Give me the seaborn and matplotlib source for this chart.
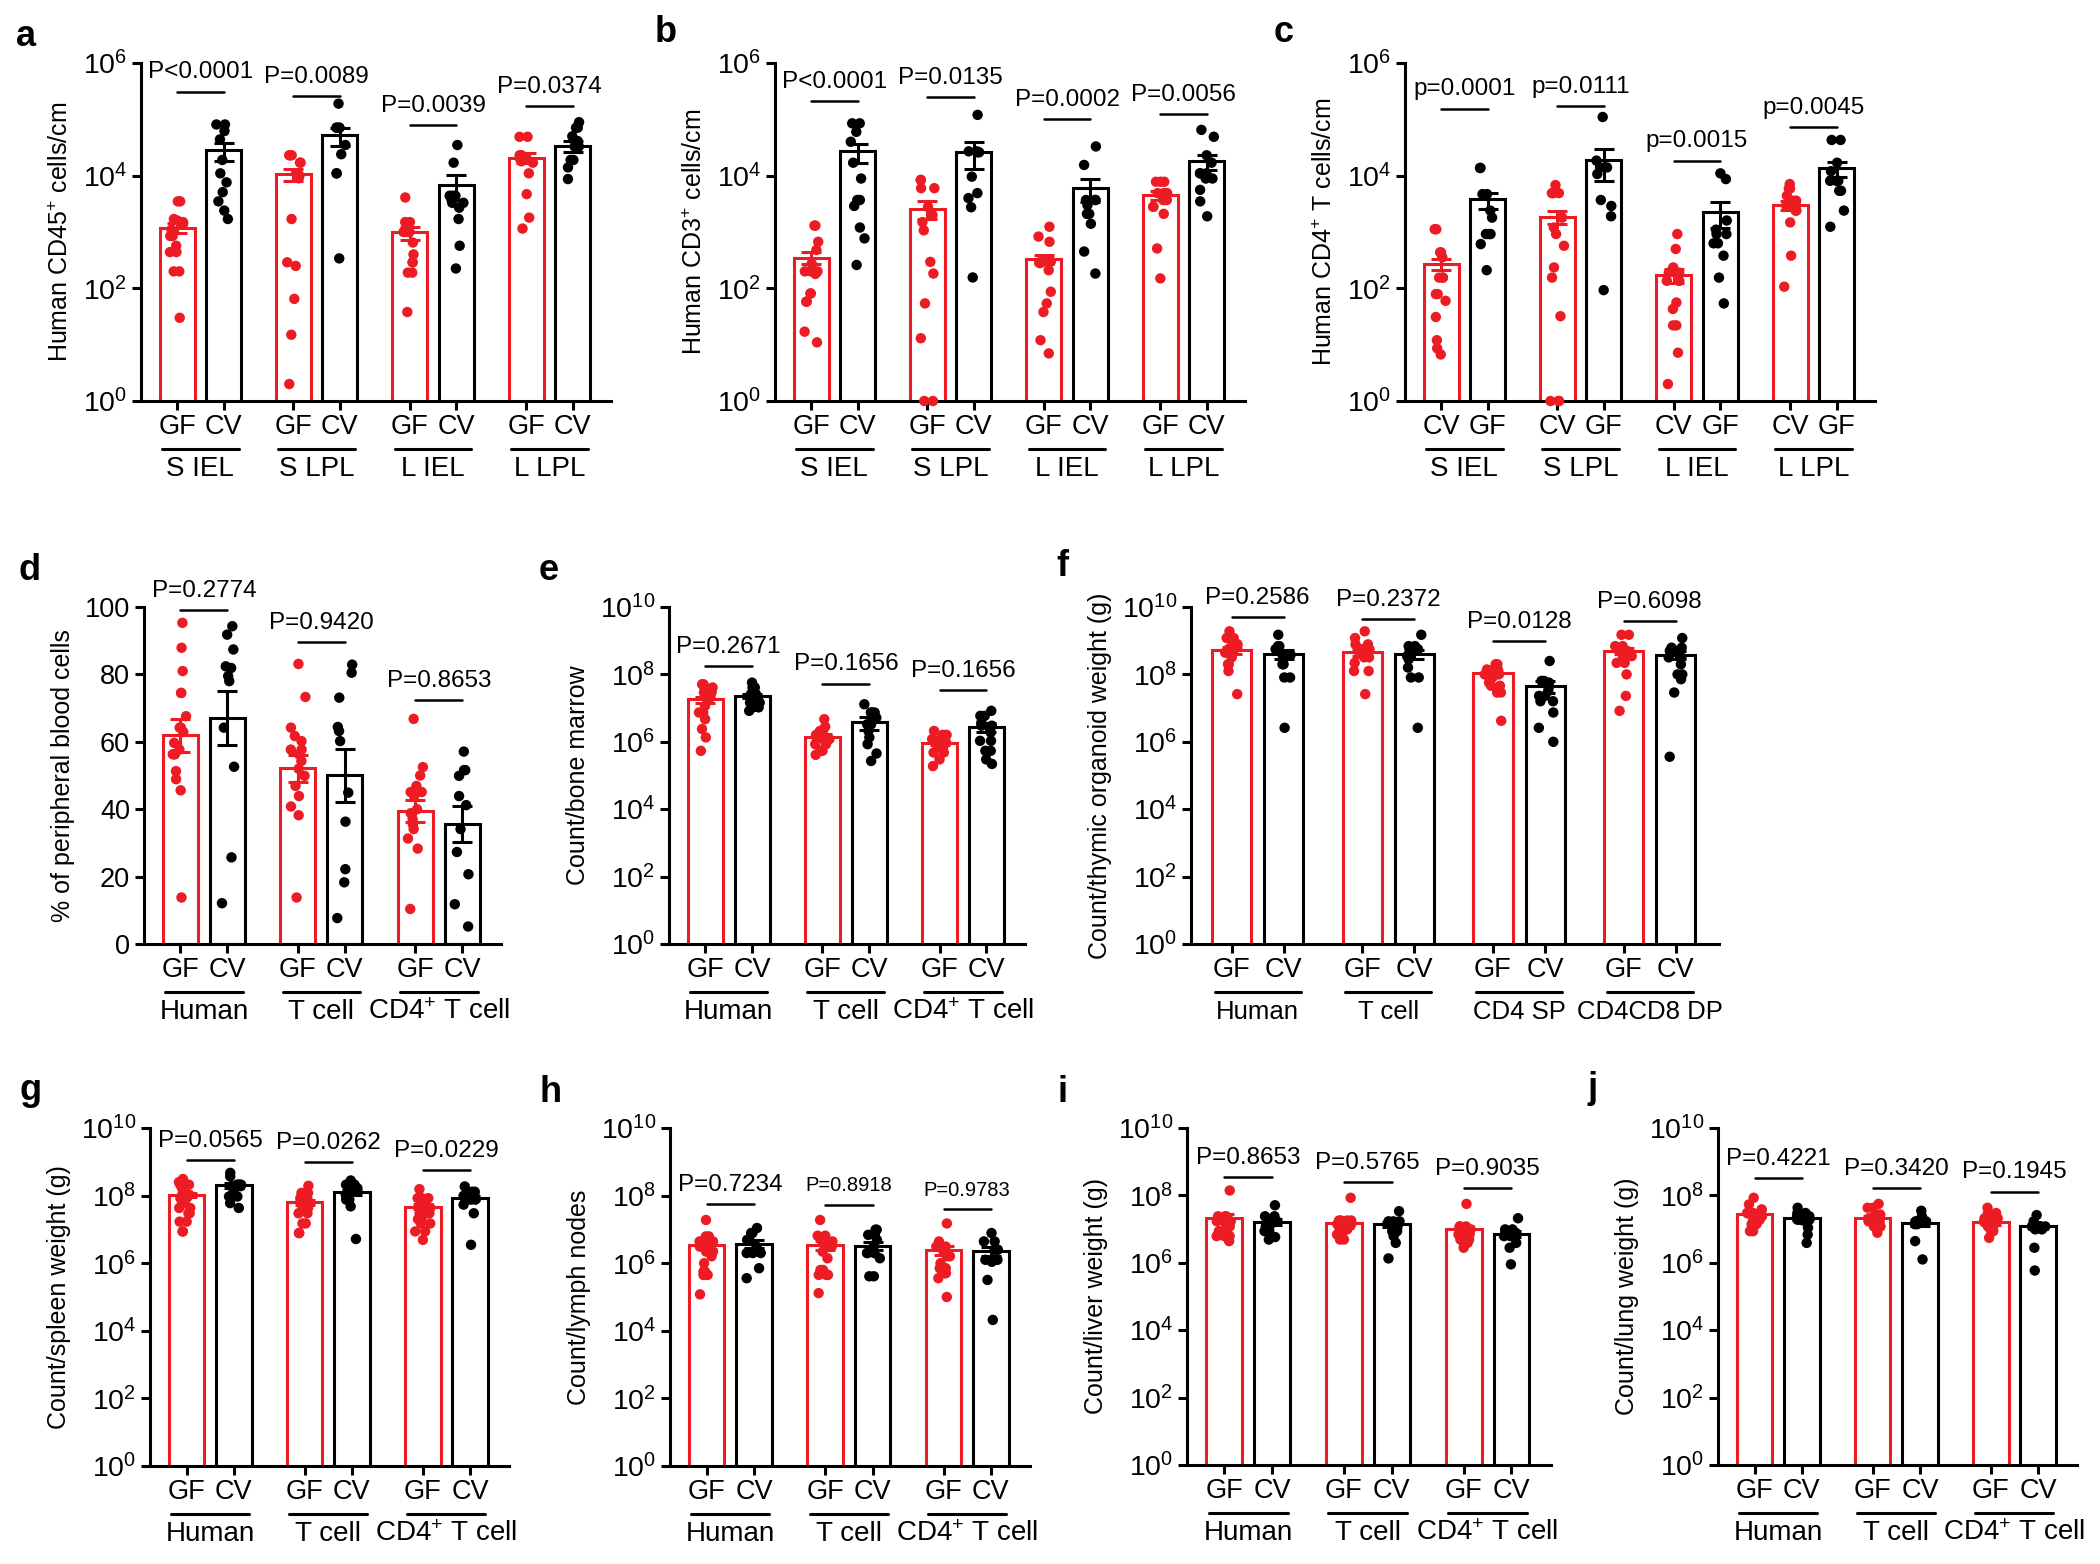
import warnings
import numpy as np
import pandas as pd
import matplotlib
matplotlib.use("Agg")
import matplotlib.pyplot as plt
import matplotlib.transforms as mtransforms
from matplotlib.ticker import NullLocator
import seaborn as sns

warnings.filterwarnings("ignore")
np.random.seed(3)

# ---------------- data ----------------
# a : Human CD45+ cells/cm
a_groups = ["S IEL", "S LPL", "L IEL", "L LPL"]
a_red = [
    [3.5e3, 3.5e3, 1.7e3, 1.6e3, 1.5e3, 1.4e3, 1.1e3, 850, 850, 570, 440, 440, 200, 200, 30],
    [2.3e4, 2.3e4, 2.3e4, 1.7e4, 1.7e4, 1.1e4, 1.0e4, 9e3, 1.7e3, 290, 250, 65, 15, 2],
    [4.1e3, 1.5e3, 1.5e3, 1.0e3, 1.0e3, 1.0e3, 650, 400, 290, 290, 190, 190, 38],
    [4.9e4, 4.9e4, 2.3e4, 2.3e4, 2.3e4, 2.0e4, 2.0e4, 2.0e4, 1.8e4, 1.7e4, 1.1e4, 4.7e3, 1.8e3, 1.15e3],
]
a_black = [
    [8.1e4, 8.1e4, 6.2e4, 4.4e4, 1.9e4, 1.1e4, 7.6e3, 5.1e3, 3.5e3, 2.4e3, 1.7e3],
    [1.9e5, 7.1e4, 7.1e4, 7.1e4, 7.1e4, 3.5e4, 2.4e4, 1.1e4, 1.1e4, 340],
    [3.5e4, 1.7e4, 4.4e3, 4.4e3, 4.4e3, 3.3e3, 3.3e3, 2.7e3, 1.7e3, 570, 225],
    [8.9e4, 7.1e4, 7.1e4, 5.0e4, 4.1e4, 4.1e4, 4.1e4, 3.3e4, 3.3e4, 1.9e4, 1.9e4, 1.4e4, 8.7e3],
]
a_red_mean = [1.2e3, 1.05e4, 980, 2.1e4]
a_red_sem = [250, 2.5e3, 250, 4e3]
a_black_mean = [2.8e4, 5.2e4, 6.9e3, 3.4e4]
a_black_sem = [9.5e3, 1.8e4, 3.2e3, 8e3]
a_pval = ["P<0.0001", "P=0.0089", "P=0.0039", "P=0.0374"]
a_pline = [3.1e5, 2.6e5, 7.9e4, 1.7e5]

# b : Human CD3+ cells/cm
b_groups = ["S IEL", "S LPL", "L IEL", "L LPL"]
b_red = [
    [1.3e3, 1.3e3, 670, 480, 275, 200, 200, 200, 180, 81, 81, 58, 58, 17, 11],
    [8.4e3, 8.4e3, 6e3, 6e3, 2.8e3, 2.0e3, 1.5e3, 1.07e3, 295, 183, 54, 13, 1, 1],
    [1.24e3, 830, 670, 300, 300, 290, 290, 280, 210, 87, 54, 38, 12, 7],
    [7.8e3, 7.8e3, 7.8e3, 4.9e3, 4.9e3, 4.9e3, 3.7e3, 3.7e3, 3.7e3, 2.8e3, 2.8e3, 2.1e3, 510, 150],
]
b_black = [
    [8.5e4, 8.5e4, 6.0e4, 4.0e4, 1.7e4, 8.9e3, 3.7e3, 3.7e3, 2.9e3, 1.2e3, 770, 260],
    [1.2e5, 2.7e4, 2.7e4, 2.6e4, 2.6e4, 9.6e3, 4.9e3, 4.0e3, 2.75e3, 156],
    [3.3e4, 1.55e4, 3.7e3, 3.7e3, 3.7e3, 3.0e3, 2.1e3, 2.1e3, 1.4e3, 450, 183],
    [6.5e4, 4.9e4, 2.3e4, 1.7e4, 1.1e4, 1.1e4, 1.1e4, 8.9e3, 8.9e3, 5.6e3, 3.5e3, 1.9e3],
]
b_red_mean = [350, 2.6e3, 325, 4.5e3]
b_red_sem = [85, 900, 60, 800]
b_black_mean = [2.7e4, 2.6e4, 6.0e3, 1.8e4]
b_black_sem = [1.0e4, 1.3e4, 2.6e3, 5.5e3]
b_pval = ["P<0.0001", "P=0.0135", "P=0.0002", "P=0.0056"]
b_pline = [2.1e5, 2.5e5, 1.0e5, 1.25e5]

# c : Human CD4+ T cells/cm
c_groups = ["S IEL", "S LPL", "L IEL", "L LPL"]
c_red = [
    [1.12e3, 1.12e3, 435, 435, 355, 155, 155, 155, 79, 79, 60, 31, 12, 8.6, 6.7],
    [6.8e3, 4.9e3, 4.9e3, 4.9e3, 1.8e3, 1.2e3, 920, 570, 235, 155, 32, 1, 1, 1],
    [920, 500, 235, 190, 190, 136, 136, 136, 56, 43, 22, 22, 7.2, 2],
    [7.1e3, 5.9e3, 5.9e3, 4.4e3, 3.6e3, 3.6e3, 2.9e3, 2.9e3, 2.9e3, 2.4e3, 2.4e3, 1.48e3, 380, 107],
]
c_black = [
    [1.37e4, 1.37e4, 4.7e3, 4.7e3, 2.4e3, 1.8e3, 920, 920, 920, 610, 210],
    [1.1e5, 1.85e4, 1.4e4, 1.4e4, 1.07e4, 3.7e3, 2.9e3, 1.9e3, 93],
    [1.1e4, 8.7e3, 1.6e3, 1.1e3, 920, 920, 630, 630, 380, 155, 54],
    [4.3e4, 4.3e4, 1.7e4, 1.2e4, 8.1e3, 8.1e3, 8.1e3, 5.4e3, 5.4e3, 2.4e3, 1.24e3],
]
c_red_mean = [270, 1.86e3, 174, 3.0e3]
c_red_sem = [60, 500, 50, 500]
c_black_mean = [3.8e3, 1.9e4, 2.3e3, 1.35e4]
c_black_sem = [1.2e3, 1.1e4, 1.1e3, 4e3]
c_pval = ["p=0.0001", "p=0.0111", "p=0.0015", "p=0.0045"]
c_pline = [1.55e5, 1.7e5, 1.85e4, 7.4e4]

# d : % of peripheral blood cells
d_groups = ["Human", "T cell", "CD4$^{+}$ T cell"]
d_red = [
    [95.3, 87.9, 81.0, 74.5, 74.5, 67.6, 64.2, 64.2, 62.9, 59.7, 57.7, 56.3, 56.3, 56.3, 51.3, 48.9, 45.6, 13.8],
    [83.1, 73.3, 64.2, 61.7, 60.2, 57.7, 57.7, 56.3, 54.3, 52.0, 49.9, 46.9, 43.9, 40.8, 38.2, 13.8],
    [66.8, 52.5, 50.0, 46.9, 45.1, 45.1, 43.9, 40.0, 38.8, 37.0, 35.5, 34.1, 31.3, 28.3, 10.4],
]
d_black = [
    [94.3, 91.8, 87.4, 82.4, 81.9, 79.5, 78.0, 64.2, 52.6, 25.7, 12.1],
    [82.9, 80.5, 73.1, 64.4, 63.2, 60.2, 44.9, 36.3, 22.2, 18.3, 7.7],
    [57.1, 51.6, 51.6, 49.9, 43.9, 41.2, 34.1, 27.3, 20.7, 11.8, 5.2],
]
d_red_mean = [61.9, 52.1, 39.5]
d_red_sem = [4.8, 4.0, 3.2]
d_black_mean = [67.1, 50.1, 35.7]
d_black_sem = [8.1, 7.9, 5.3]
d_pval = ["P=0.2774", "P=0.9420", "P=0.8653"]
d_pline = [99.2, 89.6, 72.4]

# e : Count/bone marrow
e_groups = ["Human", "T cell", "CD4$^{+}$ T cell"]
e_red = [
    [5.1e7, 5.1e7, 4.1e7, 4.1e7, 2.9e7, 2.9e7, 2.9e7, 1.8e7, 1.17e7, 7.4e6, 7.4e6, 4.7e6, 2.4e6, 1.35e6, 5.4e5],
    [4.7e6, 2.8e6, 2.1e6, 2.1e6, 1.6e6, 1.6e6, 1.6e6, 1.2e6, 1.2e6, 1.2e6, 1.2e6, 8.5e5, 8.5e5, 5.4e5, 5.4e5, 4.1e5],
    [2.1e6, 1.6e6, 1.6e6, 1.6e6, 1.2e6, 1.2e6, 9.5e5, 9.5e5, 9.5e5, 7.1e5, 7.1e5, 7.1e5, 4.8e5, 4.8e5, 3.0e5, 1.9e5],
]
e_black = [
    [5.7e7, 4.1e7, 4.1e7, 2.6e7, 2.6e7, 2.6e7, 1.8e7, 1.8e7, 1.45e7, 1.45e7, 1.45e7, 1.05e7, 1.05e7, 8.3e6],
    [1.3e7, 7.4e6, 7.4e6, 7.4e6, 5.2e6, 3.3e6, 3.3e6, 2.1e6, 1.35e6, 8.5e5, 4.5e5, 2.7e5],
    [8.3e6, 5.9e6, 5.9e6, 3.7e6, 3.0e6, 3.0e6, 1.9e6, 1.07e6, 1.07e6, 5.4e5, 5.4e5, 3.0e5, 2.2e5],
]
e_red_mean = [1.8e7, 1.4e6, 9.5e5]
e_red_sem = [4e6, 2.5e5, 1.2e5]
e_black_mean = [2.3e7, 3.9e6, 2.8e6]
e_black_sem = [3.5e6, 1.6e6, 8e5]
e_pval = ["P=0.2671", "P=0.1656", "P=0.1656"]
e_pline = [1.8e8, 5.3e7, 3.4e7]

# f : Count/thymic organoid weight (g)
f_groups = ["Human", "T cell", "CD4 SP", "CD4CD8 DP"]
f_red = [
    [1.9e9, 1.2e9, 1.2e9, 7.8e8, 7.8e8, 7.8e8, 5.6e8, 5.6e8, 4.4e8, 4.4e8, 3.2e8, 2.0e8, 2.0e8, 1.26e8, 2.6e7],
    [1.9e9, 1.2e9, 7.8e8, 7.8e8, 5.6e8, 5.6e8, 5.6e8, 4.0e8, 4.0e8, 3.2e8, 3.2e8, 2.2e8, 1.26e8, 1.26e8, 2.6e7],
    [2.0e8, 2.0e8, 1.4e8, 1.4e8, 1.4e8, 1.0e8, 1.0e8, 1.0e8, 8.1e7, 8.1e7, 5.7e7, 4.6e7, 4.6e7, 2.9e7, 2.9e7, 4.2e6],
    [1.5e9, 1.5e9, 6.9e8, 6.9e8, 5.0e8, 5.0e8, 5.0e8, 3.5e8, 3.5e8, 3.5e8, 2.2e8, 2.2e8, 1.0e8, 2.3e7, 8.3e6],
]
f_black = [
    [1.5e9, 6.9e8, 6.9e8, 5.6e8, 3.8e8, 3.8e8, 3.8e8, 2.0e8, 2.0e8, 8.1e7, 8.1e7, 2.6e6],
    [1.5e9, 6.9e8, 6.9e8, 5.6e8, 3.5e8, 3.5e8, 3.5e8, 2.8e8, 1.6e8, 8.1e7, 8.1e7, 2.6e6],
    [2.5e8, 6.4e7, 6.4e7, 5.7e7, 4.1e7, 3.2e7, 2.3e7, 2.3e7, 1.6e7, 1.6e7, 7.4e6, 2.6e6, 1.0e6],
    [1.2e9, 6.2e8, 6.2e8, 5.0e8, 5.0e8, 3.2e8, 3.2e8, 2.0e8, 1.0e8, 1.0e8, 7.2e7, 2.9e7, 3.6e5],
]
f_red_mean = [5.3e8, 4.6e8, 1.1e8, 5.0e8]
f_red_sem = [1.2e8, 1.1e8, 1.5e7, 1.1e8]
f_black_mean = [4.1e8, 4.1e8, 4.6e7, 3.8e8]
f_black_sem = [1.2e8, 1.2e8, 1.8e7, 1.0e8]
f_pval = ["P=0.2586", "P=0.2372", "P=0.0128", "P=0.6098"]
f_pline = [5.0e9, 4.3e9, 1.0e9, 3.8e9]

# g : Count/spleen weight (g)
g_groups = ["Human", "T cell", "CD4$^{+}$ T cell"]
g_red = [
    [3.1e8, 2.5e8, 2.1e8, 2.1e8, 1.8e8, 1.5e8, 1.05e8, 1.05e8, 1.05e8, 8.4e7, 8.4e7, 6.0e7, 6.0e7,
     4.3e7, 4.3e7, 3.0e7, 3.0e7, 1.7e7, 1.7e7, 8.7e6, 8.7e6],
    [1.95e8, 1.2e8, 1.2e8, 1.2e8, 8.4e7, 8.4e7, 8.4e7, 6.0e7, 6.0e7, 6.0e7, 4.3e7, 4.3e7, 4.3e7,
     3.0e7, 3.0e7, 1.5e7, 1.5e7, 7.8e6, 7.8e6],
    [1.55e8, 8.4e7, 8.4e7, 8.4e7, 6.0e7, 6.0e7, 4.3e7, 4.3e7, 4.3e7, 3.0e7, 3.0e7, 3.0e7, 2.0e7,
     2.0e7, 1.5e7, 1.5e7, 8.7e6, 8.7e6, 4.9e6],
]
g_black = [
    [4.7e8, 3.7e8, 2.1e8, 2.1e8, 2.1e8, 2.1e8, 1.9e8, 1.9e8, 1.3e8, 9.4e7, 9.4e7, 6.0e7, 4.3e7],
    [2.8e8, 2.1e8, 2.1e8, 1.66e8, 1.66e8, 1.3e8, 1.3e8, 1.3e8, 1.05e8, 7.6e7, 7.6e7, 4.8e7, 5.2e6],
    [1.86e8, 1.3e8, 1.3e8, 9.8e7, 9.8e7, 9.8e7, 9.8e7, 7.6e7, 7.6e7, 5.4e7, 3.0e7, 3.5e6],
]
g_red_mean = [1.05e8, 6.3e7, 4.7e7]
g_red_sem = [1.7e7, 1.1e7, 8e6]
g_black_mean = [2.0e8, 1.24e8, 8.5e7]
g_black_sem = [3.2e7, 2e7, 1.3e7]
g_pval = ["P=0.0565", "P=0.0262", "P=0.0229"]
g_pline = [1.15e9, 9.6e8, 5.8e8]

# h : Count/lymph nodes
h_groups = ["Human", "T cell", "CD4$^{+}$ T cell"]
h_red = [
    [1.9e7, 6.2e6, 6.2e6, 4.4e6, 4.4e6, 4.4e6, 3.1e6, 3.1e6, 3.1e6, 2.2e6, 2.2e6, 1.6e6, 1.0e6,
     5.7e5, 5.7e5, 4.5e5, 4.5e5, 4.5e5, 1.2e5],
    [1.9e7, 6.5e6, 6.5e6, 4.4e6, 4.4e6, 4.4e6, 3.1e6, 3.1e6, 3.1e6, 2.2e6, 1.4e6, 6.3e5, 6.3e5,
     4.5e5, 4.5e5, 4.5e5, 1.3e5],
    [1.5e7, 4.4e6, 3.1e6, 3.1e6, 3.1e6, 2.2e6, 2.2e6, 1.6e6, 1.6e6, 1.0e6, 7.1e5, 7.1e5, 5.1e5,
     5.1e5, 5.1e5, 3.6e5, 1.0e5],
]
h_black = [
    [1.1e7, 7.8e6, 7.8e6, 4.9e6, 4.9e6, 3.1e6, 2.0e6, 2.0e6, 2.0e6, 7.1e5, 3.6e5],
    [9.8e6, 9.8e6, 6.9e6, 6.9e6, 4.9e6, 3.1e6, 2.0e6, 2.0e6, 2.0e6, 1.4e6, 4.1e5, 4.1e5],
    [7.8e6, 4.4e6, 4.4e6, 2.5e6, 2.5e6, 1.26e6, 1.26e6, 1.26e6, 1.1e6, 3.2e5, 2.1e4],
]
h_red_mean = [3.5e6, 3.5e6, 2.5e6]
h_red_sem = [9e5, 1.1e6, 8e5]
h_black_mean = [3.8e6, 3.3e6, 2.3e6]
h_black_sem = [1e6, 9e5, 7e5]
h_pval = ["P=0.7234", "P=0.8918", "P=0.9783"]
h_pline = [5.6e7, 5.4e7, 4.0e7]

# i : Count/liver weight (g)
i_groups = ["Human", "T cell", "CD4$^{+}$ T cell"]
i_red = [
    [1.4e8, 2.4e7, 2.4e7, 2.4e7, 1.7e7, 1.7e7, 1.7e7, 1.2e7, 1.2e7, 1.2e7, 1.2e7, 8.7e6, 8.7e6,
     8.7e6, 6.2e6, 6.2e6, 6.2e6, 4.4e6],
    [8.5e7, 1.8e7, 1.8e7, 1.8e7, 1.8e7, 1.4e7, 1.4e7, 1.4e7, 1.4e7, 9.8e6, 9.8e6, 9.8e6, 6.9e6,
     6.9e6, 6.9e6, 4.9e6, 4.9e6],
    [5.6e7, 1.2e7, 1.2e7, 1.2e7, 9.8e6, 9.8e6, 9.8e6, 6.9e6, 6.9e6, 6.9e6, 6.9e6, 4.9e6, 4.9e6,
     4.9e6, 4.9e6, 3.9e6, 3.9e6, 2.8e6],
]
i_black = [
    [5.1e7, 2.4e7, 2.4e7, 1.7e7, 1.7e7, 1.7e7, 1.2e7, 1.2e7, 1.2e7, 8.7e6, 8.7e6, 5.8e6, 5.8e6, 4.9e6],
    [3.4e7, 1.7e7, 1.7e7, 1.7e7, 1.4e7, 1.4e7, 1.4e7, 8.7e6, 8.7e6, 6.2e6, 3.9e6, 1.35e6],
    [2.1e7, 9.8e6, 9.8e6, 7.8e6, 7.8e6, 7.8e6, 6.2e6, 6.2e6, 6.2e6, 3.9e6, 2.8e6, 9.0e5],
]
i_red_mean = [2.2e7, 1.5e7, 9.8e6]
i_red_sem = [7e6, 4.5e6, 2.8e6]
i_black_mean = [1.66e7, 1.4e7, 7.2e6]
i_black_sem = [3e6, 2.5e6, 1.5e6]
i_pval = ["P=0.8653", "P=0.5765", "P=0.9035"]
i_pline = [3.5e8, 2.5e8, 1.66e8]

# j : Count/lung weight (g)
j_groups = ["Human", "T cell", "CD4$^{+}$ T cell"]
j_red = [
    [8.5e7, 5.4e7, 3.8e7, 3.8e7, 3.0e7, 3.0e7, 3.0e7, 2.4e7, 2.4e7, 2.4e7, 2.4e7, 1.9e7, 1.9e7,
     1.9e7, 1.4e7, 1.4e7, 1.4e7, 8.7e6, 8.7e6],
    [5.6e7, 4.3e7, 4.3e7, 2.7e7, 2.7e7, 2.7e7, 2.1e7, 2.1e7, 2.1e7, 1.7e7, 1.7e7, 1.7e7, 1.7e7,
     1.2e7, 1.2e7, 1.2e7, 7.8e6],
    [4.3e7, 3.0e7, 3.0e7, 2.1e7, 2.1e7, 2.1e7, 1.65e7, 1.65e7, 1.65e7, 1.65e7, 1.2e7, 1.2e7, 1.2e7,
     8.7e6, 8.7e6, 5.5e6],
]
j_black = [
    [4.3e7, 3.0e7, 3.0e7, 2.4e7, 2.4e7, 2.4e7, 1.9e7, 1.9e7, 1.9e7, 1.9e7, 1.8e7, 1.8e7, 1.1e7, 6.9e6, 3.9e6],
    [3.5e7, 2.4e7, 1.7e7, 1.7e7, 1.7e7, 1.7e7, 1.7e7, 1.4e7, 1.4e7, 4.4e6, 1.26e6],
    [2.6e7, 1.7e7, 1.2e7, 1.2e7, 1.2e7, 1.2e7, 1.2e7, 1.2e7, 9.8e6, 9.8e6, 2.8e6, 5.9e5],
]
j_red_mean = [2.8e7, 2.1e7, 1.6e7]
j_red_sem = [4e6, 3e6, 2.5e6]
j_black_mean = [2.1e7, 1.55e7, 1.2e7]
j_black_sem = [2.6e6, 2.8e6, 2e6]
j_pval = ["P=0.4221", "P=0.3420", "P=0.1945"]
j_pline = [3.3e8, 1.66e8, 1.3e8]

ticks_6 = [1, 1e2, 1e4, 1e6]
ticks_10 = [1, 1e2, 1e4, 1e6, 1e8, 1e10]
ticks_pct = [0, 20, 40, 60, 80, 100]

# ---------------- style ----------------
RED = "#ED1C24"
PAL = {"GF": RED, "CV": "black"}
sns.set_style("ticks", {"axes.edgecolor": "black", "xtick.color": "black",
                        "ytick.color": "black", "text.color": "black",
                        "axes.labelcolor": "black"})
plt.rcParams["font.family"] = ["Liberation Sans", "DejaVu Sans"]
plt.rcParams["mathtext.fontset"] = "custom"
plt.rcParams["mathtext.rm"] = "Liberation Sans"
plt.rcParams["mathtext.it"] = "Liberation Sans:italic"
plt.rcParams["mathtext.bf"] = "Liberation Sans:bold"
plt.rcParams["mathtext.default"] = "regular"

W, H = 2100, 1564
fig = plt.figure(figsize=(W / 100, H / 100), dpi=100)


def make_ax(l, t, r, b):
    return fig.add_axes([l / W, 1 - b / H, (r - l) / W, (b - t) / H])


def draw(ax, groups, red, black, red_mean, red_sem, black_mean, black_sem,
         pvals, plines, ylabel, ticks, log=True, conds=("GF", "CV"), pfs=None, gfs=20):
    n = len(groups)
    if log:
        ax.set_yscale("log", nonpositive="clip")
    pts = pd.DataFrame(
        [(g, "GF", v) for g, vals in zip(groups, red) for v in vals]
        + [(g, "CV", v) for g, vals in zip(groups, black) for v in vals],
        columns=["group", "cond", "value"])
    bars = pd.DataFrame({"group": groups * 2, "cond": ["GF"] * n + ["CV"] * n,
                         "value": red_mean + black_mean})
    sns.barplot(data=bars, x="group", y="value", hue="cond", order=groups,
                hue_order=["GF", "CV"], palette=PAL, saturation=1, fill=False,
                gap=0.25, linewidth=2.2, errorbar=None, legend=False, ax=ax)
    bar_conts = list(ax.containers[:2])
    sns.stripplot(data=pts, x="group", y="value", hue="cond", order=groups,
                  hue_order=["GF", "CV"], palette=PAL, dodge=True, jitter=0.13,
                  size=7.5, linewidth=0, legend=False, ax=ax,
                  clip_on=False, zorder=3)

    xs_all = []
    for cont, m, s, col in zip(bar_conts, [red_mean, black_mean],
                               [red_sem, black_sem], [RED, "black"]):
        xs = [p.get_x() + p.get_width() / 2 for p in cont.patches]
        xs_all += xs
        ax.errorbar(xs, m, yerr=s, fmt="none", ecolor=col, elinewidth=2.2,
                    capsize=7, capthick=2.2, zorder=4, clip_on=False)
    xs_all = sorted(xs_all)

    # p values
    if pfs is None:
        pfs = [17.5] * n
    for k, (txt, yl) in enumerate(zip(pvals, plines)):
        x0, x1 = xs_all[2 * k], xs_all[2 * k + 1]
        ax.plot([x0, x1], [yl, yl], color="black", lw=1.8, clip_on=False)
        ax.annotate(txt, xy=((x0 + x1) / 2, yl), xytext=(0, 9.5),
                    textcoords="offset points", ha="center", va="baseline",
                    fontsize=pfs[k])

    # group labels under the GF / CV labels
    trans = ax.get_xaxis_transform()
    t_line = mtransforms.offset_copy(trans, fig=fig, y=-48 * 0.72, units="points")
    t_text = mtransforms.offset_copy(trans, fig=fig, y=-75 * 0.72, units="points")
    for k, g in enumerate(groups):
        ax.plot([k - 0.33, k + 0.33], [0, 0], transform=t_line, color="black",
                lw=2.2, clip_on=False)
        ax.text(k, 0, g, transform=t_text, ha="center", va="baseline", fontsize=gfs)

    ax.set_xticks(xs_all)
    ax.set_xticklabels(list(conds) * n)
    ax.set_xlim(-0.51, n - 0.47)
    ax.set_xlabel("")
    if log:
        ax.set_ylim(ticks[0], ticks[-1])
        ax.set_yticks(ticks)
        ax.set_yticklabels([f"$10^{{{int(round(np.log10(t)))}}}$" for t in ticks])
        ax.yaxis.set_minor_locator(NullLocator())
        ax.tick_params(axis="y", labelsize=20.5)
    else:
        ax.set_ylim(ticks[0], ticks[-1])
        ax.set_yticks(ticks)
        ax.tick_params(axis="y", labelsize=19.5)
    ax.set_ylabel(ylabel, fontsize=18, labelpad=7)
    sns.despine(ax=ax)
    for sp in ["left", "bottom"]:
        ax.spines[sp].set_linewidth(2.2)
    ax.tick_params(width=2.2, length=6.5, direction="out")
    ax.tick_params(axis="x", labelsize=19.5, pad=3)


ax_a = make_ax(141, 63, 611, 401)
draw(ax_a, a_groups, a_red, a_black, a_red_mean, a_red_sem, a_black_mean, a_black_sem,
     a_pval, a_pline, "Human CD45$^{+}$ cells/cm", ticks_6)
ax_b = make_ax(775, 63, 1245, 401)
draw(ax_b, b_groups, b_red, b_black, b_red_mean, b_red_sem, b_black_mean, b_black_sem,
     b_pval, b_pline, "Human CD3$^{+}$ cells/cm", ticks_6)
ax_c = make_ax(1405, 63, 1875, 401)
draw(ax_c, c_groups, c_red, c_black, c_red_mean, c_red_sem, c_black_mean, c_black_sem,
     c_pval, c_pline, "Human CD4$^{+}$ T cells/cm", ticks_6, conds=("CV", "GF"))

ax_d = make_ax(144, 607, 501, 944)
draw(ax_d, d_groups, d_red, d_black, d_red_mean, d_red_sem, d_black_mean, d_black_sem,
     d_pval, d_pline, "% of peripheral blood cells", ticks_pct, log=False)
ax_e = make_ax(669, 607, 1025, 944)
draw(ax_e, e_groups, e_red, e_black, e_red_mean, e_red_sem, e_black_mean, e_black_sem,
     e_pval, e_pline, "Count/bone marrow", ticks_10)
ax_f = make_ax(1191, 607, 1719, 944)
draw(ax_f, f_groups, f_red, f_black, f_red_mean, f_red_sem, f_black_mean, f_black_sem,
     f_pval, f_pline, "Count/thymic organoid weight (g)", ticks_10, gfs=18.5)

ax_g = make_ax(150, 1128, 509, 1466)
draw(ax_g, g_groups, g_red, g_black, g_red_mean, g_red_sem, g_black_mean, g_black_sem,
     g_pval, g_pline, "Count/spleen weight (g)", ticks_10)
ax_h = make_ax(670, 1128, 1030, 1466)
draw(ax_h, h_groups, h_red, h_black, h_red_mean, h_red_sem, h_black_mean, h_black_sem,
     h_pval, h_pline, "Count/lymph nodes", ticks_10, pfs=[17.5, 14.5, 14.5])
ax_i = make_ax(1187, 1128, 1551, 1465)
draw(ax_i, i_groups, i_red, i_black, i_red_mean, i_red_sem, i_black_mean, i_black_sem,
     i_pval, i_pline, "Count/liver weight (g)", ticks_10)
ax_j = make_ax(1718, 1128, 2077, 1465)
draw(ax_j, j_groups, j_red, j_black, j_red_mean, j_red_sem, j_black_mean, j_black_sem,
     j_pval, j_pline, "Count/lung weight (g)", ticks_10)

# panel letters
for letter, (x, y) in zip("abcdefghij",
                          [(26, 37), (666, 32), (1284, 33), (30, 570), (549, 570),
                           (1062, 567), (31, 1090), (551, 1092), (1063, 1092), (1593, 1088)]):
    fig.text(x / W, 1 - y / H, letter, fontsize=26, fontweight="bold",
             ha="center", va="center")

fig.savefig("out.png", dpi=100)
